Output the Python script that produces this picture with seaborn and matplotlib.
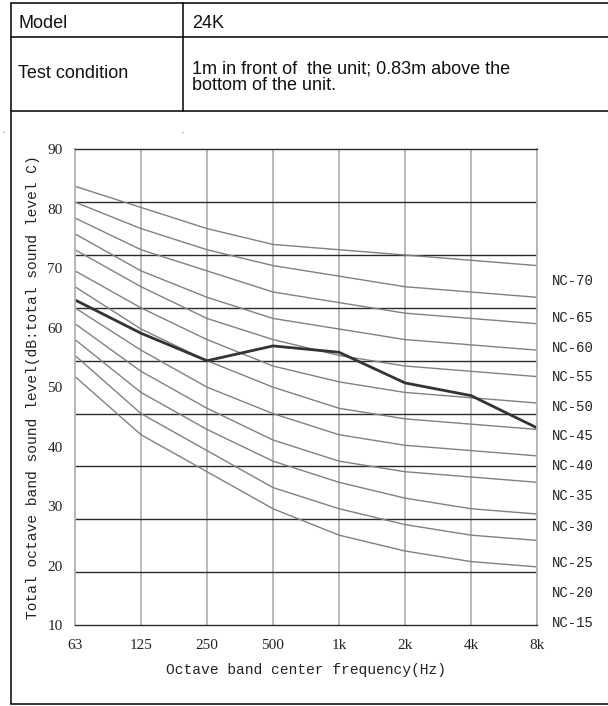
import numpy as np
import pandas as pd
import matplotlib
matplotlib.use("Agg")
import matplotlib.pyplot as plt
from matplotlib.lines import Line2D
from matplotlib.ticker import MultipleLocator
import seaborn as sns

# Estilo
sns.set_theme(style="white")
plt.rcParams["font.family"] = ["Liberation Serif", "DejaVu Serif"]

# Dados do grafico
freqs = ["63", "125", "250", "500", "1k", "2k", "4k", "8k"]

nc15 = [47, 36, 29, 22, 17, 14, 12, 11]
nc20 = [51, 40, 33, 26, 22, 19, 17, 16]
nc25 = [54, 44, 37, 31, 27, 24, 22, 21]
nc30 = [57, 48, 41, 35, 31, 29, 28, 27]
nc35 = [60, 52, 45, 40, 36, 34, 33, 32]
nc40 = [64, 56, 50, 45, 41, 39, 38, 37]
nc45 = [67, 60, 54, 49, 46, 44, 43, 42]
nc50 = [71, 64, 58, 54, 51, 49, 48, 47]
nc55 = [74, 67, 62, 58, 56, 54, 53, 52]
nc60 = [77, 71, 67, 63, 61, 59, 58, 57]
nc65 = [80, 75, 71, 68, 66, 64, 63, 62]
nc70 = [83, 79, 75, 72, 71, 70, 69, 68]

nc_names = ["NC-15", "NC-20", "NC-25", "NC-30", "NC-35", "NC-40",
            "NC-45", "NC-50", "NC-55", "NC-60", "NC-65", "NC-70"]
nc_curves = [nc15, nc20, nc25, nc30, nc35, nc40,
             nc45, nc50, nc55, nc60, nc65, nc70]

# posicao dos rotulos NC (como no desenho original)
nc_label_y = [0.4, 6.0, 11.7, 18.6, 24.4, 30.1, 35.8, 41.3, 46.9, 52.4, 58.1, 65.0]

# nivel medido da unidade 24K
unit_levels = [61.5, 55.2, 50.0, 52.8, 51.6, 45.8, 43.4, 37.3]

ytick_labels = ["10", "20", "30", "40", "50", "60", "70", "80", "90"]

# Montando o dataframe das curvas NC
rows = []
for name, vals in zip(nc_names, nc_curves):
    for f, v in zip(freqs, vals):
        rows.append({"Curva": name, "Freq": f, "Nivel": v})
df_nc = pd.DataFrame(rows)

W, H = 608, 706
fig = plt.figure(figsize=(W / 100, H / 100), dpi=100)


def fx(x):
    return x / W


def fy(y):
    return 1 - y / H


# Tabela do cabecalho
def linha(x0, y0, x1, y1):
    fig.add_artist(Line2D([fx(x0), fx(x1)], [fy(y0), fy(y1)],
                          transform=fig.transFigure, color="black", lw=1.1))


linha(10.7, 3.3, 608, 3.3)
linha(10.7, 37, 608, 37)
linha(10.7, 111, 608, 111)
linha(10.7, 704, 608, 704)
linha(10.7, 3.3, 10.7, 704)
linha(182.7, 3.3, 182.7, 111)

# pontinhos soltos do documento original
fig.text(fx(2), fy(133), ".", fontsize=6, color="#333333", va="baseline")
fig.text(fx(181.5), fy(133), ".", fontsize=6, color="#333333", va="baseline")

tab_font = dict(family="Liberation Sans", size=13, color="#111111", va="baseline")
fig.text(fx(18), fy(28.3), "Model", **tab_font)
fig.text(fx(192), fy(28.3), "24K", **tab_font)
fig.text(fx(18), fy(77.5), "Test condition", **tab_font)
fig.text(fx(192), fy(73.5), "1m in front of  the unit; 0.83m above the", **tab_font)
fig.text(fx(192), fy(89.5), "bottom of the unit.", **tab_font)

# Grafico
ax = fig.add_axes([fx(75), fy(625), fx(537) - fx(75), fy(149.3) - fy(625)])

sns.lineplot(data=df_nc, x="Freq", y="Nivel", units="Curva", estimator=None,
             sort=False, color="#808080", lw=1.0, ax=ax)
sns.lineplot(x=freqs, y=unit_levels, sort=False, color="#333333", lw=2.0, ax=ax)

ax.set_xlim(0, len(freqs) - 1)
ax.set_ylim(0, 90)
ax.set_yticks(np.linspace(0, 90, len(ytick_labels)))
ax.set_yticklabels(ytick_labels)
ax.yaxis.set_minor_locator(MultipleLocator(10))

ax.set_axisbelow(True)
ax.grid(axis="x", which="major", color="#b4b4b4", lw=1.3)
ax.grid(axis="y", which="major", visible=False)
ax.grid(axis="y", which="minor", color="#2a2a2a", lw=1.0)
ax.tick_params(axis="both", which="both", length=0, labelsize=11,
               colors="#222222")
ax.tick_params(axis="x", pad=10)
ax.tick_params(axis="y", pad=9)

for s in ["top", "bottom"]:
    ax.spines[s].set_color("#2a2a2a")
    ax.spines[s].set_linewidth(1.0)
for s in ["left", "right"]:
    ax.spines[s].set_color("#b4b4b4")
    ax.spines[s].set_linewidth(1.3)

mono = dict(family="Liberation Mono", size=10.5, color="#222222")
ax.set_xlabel("Octave band center frequency(Hz)", labelpad=8, **mono)
ax.set_ylabel("Total octave band sound level(dB:total sound level C)",
              labelpad=5, **mono)

for name, yv in zip(nc_names, nc_label_y):
    ax.text(1.032, yv, name, transform=ax.get_yaxis_transform(),
            va="center", ha="left", family="Liberation Mono", size=10,
            color="#222222")

fig.savefig("out.png", dpi=100)
